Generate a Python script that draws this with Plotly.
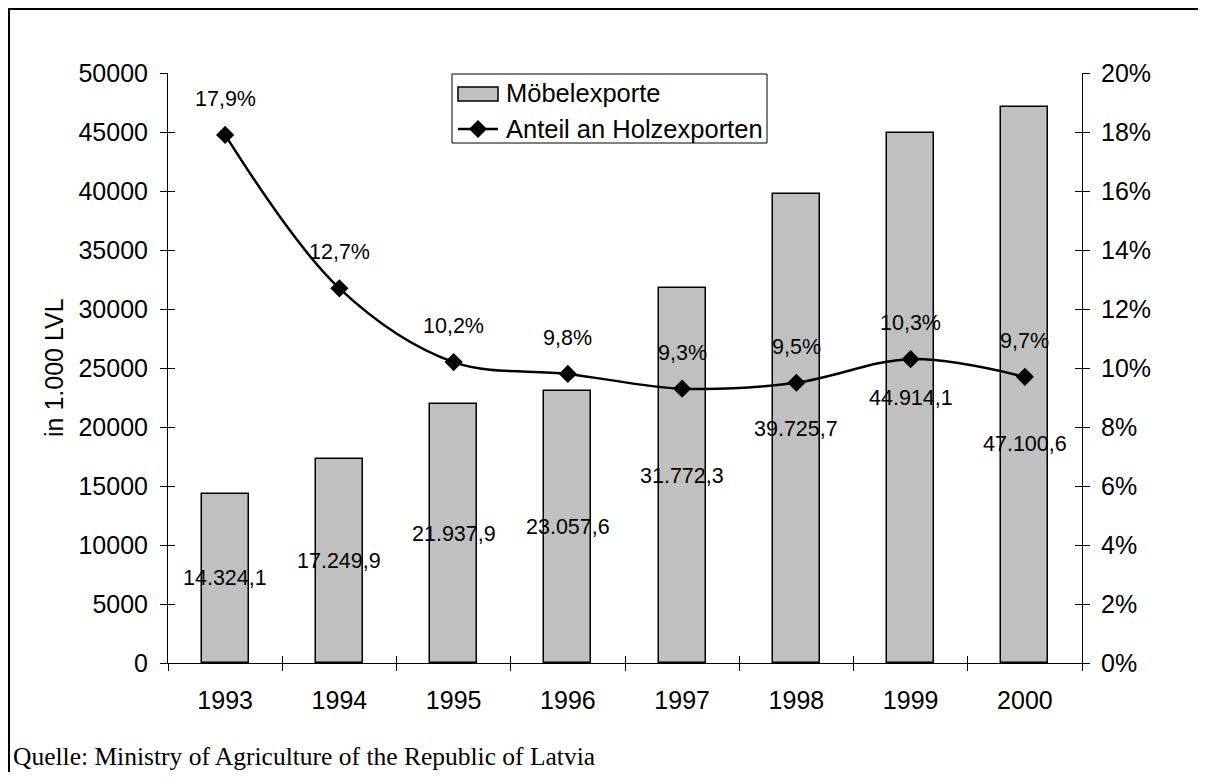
import plotly.graph_objects as go

years = ["1993", "1994", "1995", "1996", "1997", "1998", "1999", "2000"]
moebel_exports = [14324.1, 17249.9, 21937.9, 23057.6, 31772.3, 39725.7, 44914.1, 47100.6]
share_pct = [17.9, 12.7, 10.2, 9.8, 9.3, 9.5, 10.3, 9.7]
left_ticks = [0, 5000, 10000, 15000, 20000, 25000, 30000, 35000, 40000, 45000, 50000]
right_ticks = [0, 2, 4, 6, 8, 10, 12, 14, 16, 18, 20]
bar_label_shift = [0, 0, 0, 0, 0, 0, 0, -59]

OFF = 8  # page body margin
W, H = 1206 - 2 * OFF, 780 - 2 * OFF
# plot area in page pixels: x 168..1082, y 73..663
ML, MT = 168 - OFF, 73 - OFF
MR = W - (1082 - OFF)
MB = H - (663 - OFF)
PW, PH = W - ML - MR, H - MT - MB


def px(x):
    return (x - OFF - ML) / PW


def py(y):
    return (H - MB - (y - OFF)) / PH


def de_num(v, dec=1):
    s = f"{v:,.{dec}f}"
    return s.replace(",", "X").replace(".", ",").replace("X", ".")


xs = list(range(len(years)))
FONT = "Liberation Sans, Arial, sans-serif"

fig = go.Figure()
fig.add_trace(go.Bar(
    x=xs, y=moebel_exports, width=0.41,
    marker=dict(color="#c0c0c0", line=dict(color="black", width=1.5)),
    name="Möbelexporte", showlegend=False, xaxis="x", yaxis="y",
))
fig.add_trace(go.Scatter(
    x=xs, y=share_pct, mode="lines+markers",
    line=dict(color="black", width=2.5, shape="spline", smoothing=1.0),
    marker=dict(symbol="diamond", size=14, color="black"),
    name="Anteil an Holzexporten", showlegend=False, xaxis="x", yaxis="y2",
))
# empty helper traces so the overlay tick axes get drawn
for xa, ya in [("x2", "y"), ("x3", "y"), ("x", "y3"), ("x", "y4")]:
    fig.add_trace(go.Scatter(x=[None], y=[None], xaxis=xa, yaxis=ya, mode="markers",
                             showlegend=False, hoverinfo="skip"))

bounds = [i - 0.5 for i in range(len(years) + 1)]
xr = [-0.5, len(years) - 0.5]
axis_common = dict(showgrid=False, zeroline=False, linecolor="black", linewidth=1,
                   tickcolor="black", tickwidth=1, ticklen=7)

annotations = []
for i, v in enumerate(moebel_exports):
    annotations.append(dict(x=i, y=v / 2, xref="x", yref="y", text=de_num(v),
                            showarrow=False, yshift=bar_label_shift[i],
                            font=dict(family=FONT, size=21.5, color="black")))
for i, p in enumerate(share_pct):
    annotations.append(dict(x=i, y=p, xref="x", yref="y2", text=de_num(p) + "%",
                            showarrow=False, yshift=36,
                            font=dict(family=FONT, size=21.5, color="black")))
annotations.append(dict(x=px(54), y=0.5, xref="paper", yref="paper", text="in 1.000 LVL",
                        textangle=-90, showarrow=False, xanchor="center", yanchor="middle",
                        font=dict(family=FONT, size=25, color="black")))
annotations.append(dict(x=px(11), y=py(756), xref="paper", yref="paper",
                        text="Quelle: Ministry of Agriculture of the Republic of Latvia",
                        showarrow=False, xanchor="left", yanchor="middle",
                        font=dict(family="Liberation Serif, Times New Roman, serif", size=25.5, color="black")))
# legend text
annotations.append(dict(x=px(504), y=py(93), xref="paper", yref="paper", text="Möbelexporte",
                        showarrow=False, xanchor="left", yanchor="middle",
                        font=dict(family=FONT, size=25.5, color="black")))
annotations.append(dict(x=px(504), y=py(129), xref="paper", yref="paper", text="Anteil an Holzexporten",
                        showarrow=False, xanchor="left", yanchor="middle",
                        font=dict(family=FONT, size=25.5, color="black")))

shapes = [
    # legend box
    dict(type="rect", xref="paper", yref="paper", x0=px(452), x1=px(767), y0=py(143), y1=py(74),
         line=dict(color="black", width=1), fillcolor="white", layer="below"),
    dict(type="rect", xref="paper", yref="paper", x0=px(458), x1=px(498), y0=py(101), y1=py(87),
         line=dict(color="black", width=1.5), fillcolor="#c0c0c0"),
    dict(type="line", xref="paper", yref="paper", x0=px(458), x1=px(498), y0=py(129), y1=py(129),
         line=dict(color="black", width=2.5)),
    dict(type="path", xref="paper", yref="paper",
         path=f"M {px(478)},{py(120)} L {px(487)},{py(129)} L {px(478)},{py(138)} L {px(469)},{py(129)} Z",
         fillcolor="black", line=dict(color="black", width=0)),
    # outer frame (left + top)
    dict(type="line", xref="paper", yref="paper", x0=px(9), x1=px(9), y0=py(9), y1=py(790),
         line=dict(color="black", width=2)),
    dict(type="line", xref="paper", yref="paper", x0=px(8), x1=px(1215), y0=py(9), y1=py(9),
         line=dict(color="black", width=2)),
]

font_tick = dict(family=FONT, size=25, color="black")

fig.update_layout(
    width=W, height=H,
    margin=dict(l=ML, r=MR, t=MT, b=MB, pad=0),
    paper_bgcolor="white", plot_bgcolor="rgba(0,0,0,0)",
    showlegend=False,
    bargap=0,
    xaxis=dict(range=xr, tickvals=xs, ticktext=years, ticks="", showline=True,
               ticklabelstandoff=15, tickfont=font_tick, anchor="y",
               **{k: v for k, v in axis_common.items() if k != "ticklen"}),
    xaxis2=dict(range=xr, overlaying="x", anchor="y", side="bottom", tickvals=bounds, ticks="outside",
                showticklabels=False, showline=False, **axis_common),
    xaxis3=dict(range=xr, overlaying="x", anchor="y", side="bottom", tickvals=bounds, ticks="inside",
                showticklabels=False, showline=False, **axis_common),
    yaxis=dict(range=[0, 50000], tickvals=left_ticks, ticktext=[str(t) for t in left_ticks],
               ticks="outside", showline=True, tickfont=font_tick, ticklabelstandoff=7,
               anchor="x", **axis_common),
    yaxis3=dict(range=[0, 50000], tickvals=left_ticks, overlaying="y", side="left", anchor="x",
                ticks="inside", showticklabels=False, showline=False, **axis_common),
    yaxis2=dict(range=[0, 20], tickvals=right_ticks, ticktext=[f"{t}%" for t in right_ticks],
                overlaying="y", side="right", anchor="x", ticks="outside", showline=True,
                tickfont=font_tick, ticklabelstandoff=6, **axis_common),
    yaxis4=dict(range=[0, 20], tickvals=right_ticks, overlaying="y", side="right", anchor="x",
                ticks="inside", showticklabels=False, showline=False, **axis_common),
    annotations=annotations,
    shapes=shapes,
)

fig.write_html("out.html")
